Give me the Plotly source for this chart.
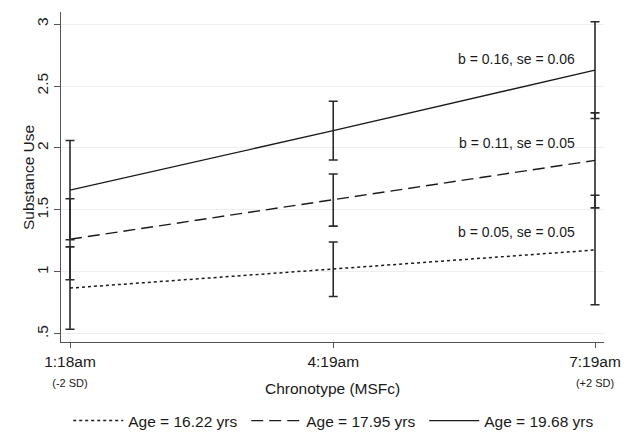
import plotly.graph_objects as go

# ---- data ----
x_hours = [1 + 18/60, 4 + 19/60, 7 + 19/60]
x_labels = ["1:18am", "4:19am", "7:19am"]
x_sublabels = ["(-2 SD)", "", "(+2 SD)"]

series_names = ["Age = 16.22 yrs", "Age = 17.95 yrs", "Age = 19.68 yrs"]
age_16 = [0.870, 1.022, 1.177]
age_16_ci = [0.332, 0.220, 0.442]
age_18 = [1.264, 1.580, 1.900]
age_18_ci = [0.327, 0.210, 0.383]
age_20 = [1.660, 2.140, 2.628]
age_20_ci = [0.400, 0.237, 0.390]

slope_labels = ["b = 0.05, se = 0.05", "b = 0.11, se = 0.05", "b = 0.16, se = 0.06"]
slope_label_y = [1.323, 2.040, 2.718]

y_ticks = [0.5, 1, 1.5, 2, 2.5, 3]
y_ticktext = [".5", "1", "1.5", "2", "2.5", "3"]

FONT = "Liberation Sans, Arial, Helvetica, sans-serif"
INK = "#1a1a1a"

fig = go.Figure()
styles = [("dot", 1.5), ("12px,6px", 1.4), ("solid", 1.4)]
for name, ys, ci, (dash, w) in zip(series_names, [age_16, age_18, age_20],
                                    [age_16_ci, age_18_ci, age_20_ci], styles):
    fig.add_trace(go.Scatter(
        x=x_hours, y=ys, name=name, mode="lines",
        line=dict(color=INK, width=w, dash=dash),
        error_y=dict(type="data", array=ci, visible=True,
                     color="#2a2a2a", thickness=1.6, width=4.5),
    ))

for txt, yv in zip(slope_labels, slope_label_y):
    fig.add_annotation(x=7.11, y=yv, text=txt, showarrow=False,
                       xanchor="right", yanchor="middle",
                       font=dict(family=FONT, size=14, color=INK))

# axis titles placed as paper annotations
fig.add_annotation(x=0.5, y=-0.1394, xref="paper", yref="paper",
                   text="Chronotype (MSFc)", showarrow=False,
                   xanchor="center", yanchor="middle",
                   font=dict(family=FONT, size=15.5, color=INK))
fig.add_annotation(x=-0.0608, y=0.5, xref="paper", yref="paper",
                   text="Substance Use", showarrow=False, textangle=-90,
                   xanchor="center", yanchor="middle",
                   font=dict(family=FONT, size=15.5, color=INK))

ticktext = [f"{a}<br><span style='font-size:11px'>{b}</span>" if b else a
            for a, b in zip(x_labels, x_sublabels)]

# the page body has an 8px default margin, so the figure is sized/offset for it
fig.update_layout(
    width=622, height=425,
    margin=dict(l=53, r=26, t=4, b=91, autoexpand=False),
    paper_bgcolor="white", plot_bgcolor="white",
    font=dict(family=FONT, size=15.5, color=INK),
    showlegend=True,
    legend=dict(orientation="h", x=0.505, xanchor="center",
                y=-0.2394, yanchor="middle",
                font=dict(family=FONT, size=15.5, color=INK),
                itemwidth=50, tracegroupgap=0,
                entrywidth=113, entrywidthmode="pixels"),
    xaxis=dict(
        range=[1.1969, 7.4198], automargin=False,
        tickmode="array", tickvals=x_hours, ticktext=ticktext,
        ticks="outside", ticklen=5, tickcolor="#555", tickwidth=1,
        showgrid=False, zeroline=False,
        showline=True, linecolor="#555", linewidth=1.2,
        tickfont=dict(family=FONT, size=15.5, color=INK),
    ),
    yaxis=dict(
        range=[0.435, 3.097], automargin=False,
        tickmode="array", tickvals=y_ticks, ticktext=y_ticktext,
        tickangle=-90,
        ticks="outside", ticklen=6, tickcolor="#555", tickwidth=1,
        showgrid=True, gridcolor="#eeeeee", gridwidth=1,
        zeroline=False,
        showline=True, linecolor="#555", linewidth=1.2,
        tickfont=dict(family=FONT, size=15.5, color=INK),
    ),
)

fig.write_html("out.html")
